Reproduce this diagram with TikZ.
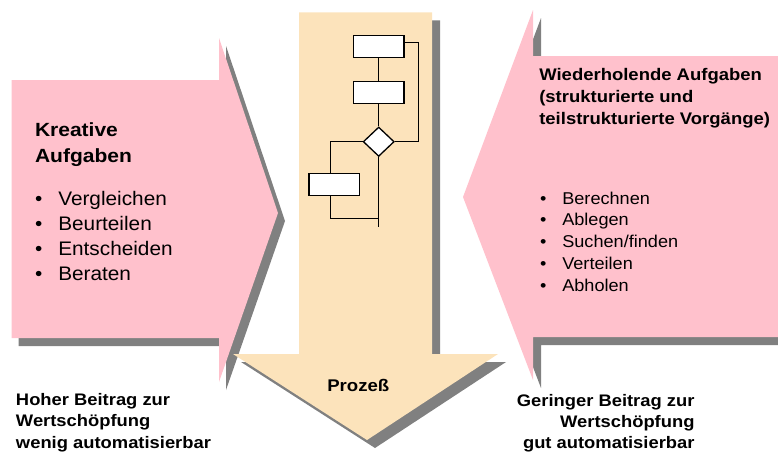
\documentclass[tikz,border=0pt]{standalone}
\usepackage{fontspec}
\setmainfont{Liberation Sans}[UprightFeatures={FakeStretch=1.06},BoldFeatures={FakeStretch=1.1}]
\usetikzlibrary{shapes.geometric}
\definecolor{pinkfill}{RGB}{255,193,204}
\definecolor{sandfill}{RGB}{252,227,187}
\definecolor{shade}{RGB}{128,128,128}
% one line of a stacked text block, left or right aligned
\newcommand\lline[1]{\hbox{#1}}
\newcommand\rline[1]{\hbox to 0pt{\hss#1}}
\newcommand\bitem[2]{\hbox{\makebox[#1][l]{•}#2}}
\begin{document}
\begin{tikzpicture}[x=1pt,y=-1pt,
  txt/.style={inner sep=0pt, outer sep=0pt, anchor=base west},
  flowbox/.style={draw=black, fill=white, line width=1.3pt, inner sep=0pt,
    minimum width=50.5pt, minimum height=22pt},
  flowline/.style={draw=black, line width=1.3pt},
  leftblock/.pic={\path[pic actions] (11.7,80) -- (219,80) -- (219,38) -- (278,213)
    -- (219,382) -- (219,338) -- (11.7,338) -- cycle;},
  midblock/.pic={\path[pic actions] (299,12.3) -- (432,12.3) -- (432,354) -- (498,354)
    -- (367,440) -- (233,354) -- (299,354) -- cycle;},
  rightblock/.pic={\path[pic actions] (790,56) -- (533,56) -- (533,10) -- (463,197)
    -- (533,380) -- (533,337) -- (790,337) -- cycle;}]
\useasboundingbox (0,0) rectangle (778,456);

% drop shadows
\pic[fill=shade] at (7,8) {leftblock};
\pic[fill=shade] at (8,8) {midblock};
\pic[fill=shade] at (8,8) {rightblock};
% arrows
\pic[fill=pinkfill] at (0,0) {leftblock};
\pic[fill=sandfill] at (0,0) {midblock};
\pic[fill=pinkfill] at (0,0) {rightblock};

% small flowchart inside the process arrow
\node[flowbox] (b1) at (378.7,46.2) {};
\node[flowbox] (b2) at (378.7,92.2) {};
\node[diamond, draw=black, fill=white, line width=1.3pt, inner sep=0pt,
  minimum width=31pt, minimum height=29.4pt] (dc) at (378.7,141.7) {};
\node[flowbox] (b3) at (334.2,184.2) {};
\coordinate (rt) at (418.3,141.7);
\coordinate (lt) at (330.7,141.7);
\coordinate (jn) at (378.7,218.3);
\coordinate (en) at (378.7,227.3);
\draw[flowline] (b1) -- (b2);
\draw[flowline] (b2) -- (dc);
\draw[flowline] ([yshift=3.9pt]b1.east) -| (rt) -- (dc.east);
\draw[flowline] (dc.west) -- (lt) -- (lt |- b3.north);
\draw[flowline] (lt |- b3.south) |- (jn);
\draw[flowline] (dc.south) -- (en);

% texts
\node[txt] (kreativ) at (35,136) {\bfseries\fontsize{19.1}{26.3}\selectfont
  \vtop{\lline{Kreative}\lline{Aufgaben}}};
\node[txt] (leftlist) at (35,205) {\fontsize{19.6}{25.3}\selectfont
  \vtop{\bitem{23.3pt}{Vergleichen}\bitem{23.3pt}{Beurteilen}\bitem{23.3pt}{Entscheiden}\bitem{23.3pt}{Beraten}}};
\node[txt] (righthead) at (539.3,80.7) {\bfseries\fontsize{16.8}{21.7}\selectfont
  \vtop{\lline{Wiederholende Aufgaben}\lline{(strukturierte und}\lline{teilstrukturierte Vorgänge)}}};
\node[txt] (rightlist) at (540,204) {\fontsize{17.1}{21.9}\selectfont
  \vtop{\bitem{22.3pt}{Berechnen}\bitem{22.3pt}{Ablegen}\bitem{22.3pt}{Suchen/finden}\bitem{22.3pt}{Verteilen}\bitem{22.3pt}{Abholen}}};
\node[txt, anchor=base] (prozess) at (358.3,391.7) {\bfseries\fontsize{16.9}{20}\selectfont Prozeß};
\node[txt] (lownote) at (16,405.7) {\bfseries\fontsize{16.7}{21.2}\selectfont
  \vtop{\lline{Hoher Beitrag zur}\lline{Wertschöpfung}\lline{wenig automatisierbar}}};
\node[txt] (highnote) at (694,406.7) {\bfseries\fontsize{16.7}{21}\selectfont
  \vtop{\rline{Geringer Beitrag zur}\rline{Wertschöpfung}\rline{gut automatisierbar}}};
\end{tikzpicture}
\end{document}
